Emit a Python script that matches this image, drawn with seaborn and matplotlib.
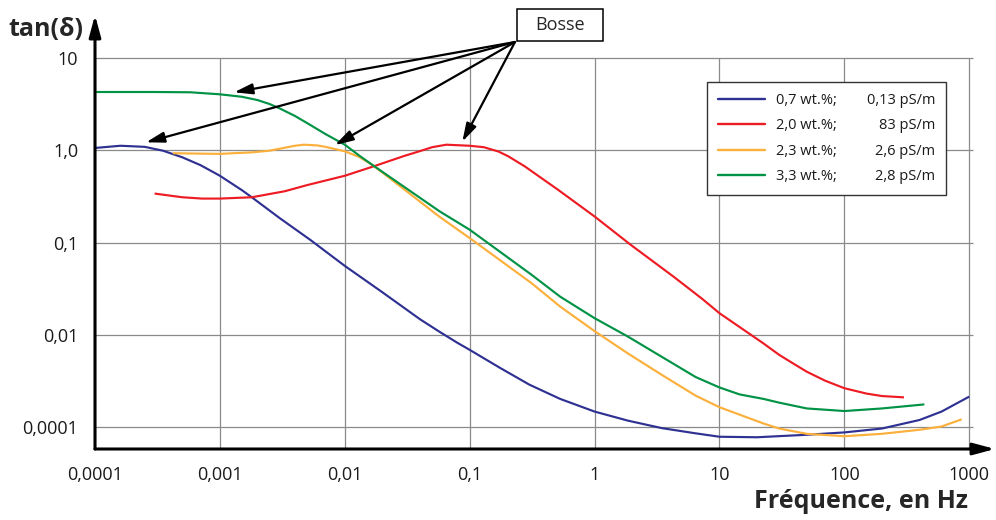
import numpy as np
import pandas as pd
import seaborn as sns
from matplotlib import pyplot as plt
from matplotlib.lines import Line2D
from matplotlib.patches import Rectangle

# concentration / conductivity of each sample
series_names = ["0,7 wt.%;", "2,0 wt.%;", "2,3 wt.%;", "3,3 wt.%;"]
conductivity = ["0,13 pS/m", "83 pS/m", "2,6 pS/m", "2,8 pS/m"]
colors = ["#2e3192", "#ed1c24", "#fbb03b", "#009245"]

# values (frequency in Hz, tan delta)
freq_07 = [1e-4, 1.6e-4, 2.5e-4, 3.5e-4, 5e-4, 7e-4, 1e-3, 1.5e-3, 1.8e-3, 3e-3,
           5.3e-3, 1e-2, 0.02, 0.04, 0.0575, 0.08, 0.1, 0.175, 0.3, 0.53, 1, 1.85, 3.45,
           6.45, 10, 20, 50, 100, 200, 400, 600, 1000]
tan_07 = [1.06, 1.12, 1.09, 0.99, 0.84, 0.69, 0.53, 0.37, 0.31, 0.185,
          0.107, 0.056, 0.029, 0.0148, 0.0108, 0.0082, 0.0069, 0.0044, 0.0029, 0.00203,
          0.00148, 0.00118, 0.00098, 0.00086, 0.00079, 0.00078, 0.00083, 0.00088,
          0.00097, 0.0012, 0.00148, 0.00215]

freq_20 = [3e-4, 5e-4, 7.2e-4, 1e-3, 1.8e-3, 3.3e-3, 5e-3, 1e-2, 0.017, 0.03, 0.04, 0.05,
           0.065, 0.1, 0.13, 0.17, 0.204, 0.276, 0.508, 1, 1.94, 4.27, 7.3, 10, 22.5, 30,
           40, 50, 70, 100, 150, 200, 300]
tan_20 = [0.34, 0.31, 0.30, 0.30, 0.31, 0.36, 0.42, 0.53, 0.67, 0.87, 0.98, 1.08,
          1.15, 1.12, 1.08, 0.97, 0.86, 0.67, 0.375, 0.192, 0.095, 0.043, 0.0245, 0.0172,
          0.0081, 0.0061, 0.0048, 0.0040, 0.0032, 0.00265, 0.00232, 0.00218, 0.00211]

freq_23 = [4.2e-4, 7.2e-4, 1e-3, 1.8e-3, 2.5e-3, 3e-3, 4e-3, 4.7e-3, 6e-3, 7e-3, 1e-2,
           0.013, 0.017, 0.03, 0.0575, 0.1, 0.312, 0.53, 1, 1.85, 3.45, 6.45, 10, 22.5,
           30, 50, 100, 200, 400, 600, 870]
tan_23 = [0.93, 0.92, 0.915, 0.95, 0.99, 1.04, 1.12, 1.15, 1.13, 1.09, 0.975,
          0.85, 0.68, 0.376, 0.19, 0.112, 0.0365, 0.0203, 0.0110, 0.0063, 0.0037, 0.0022,
          0.00165, 0.0011, 0.00097, 0.00085, 0.0008, 0.00085, 0.00094, 0.00102, 0.00122]

freq_33 = [1e-4, 3e-4, 5.8e-4, 1e-3, 1.5e-3, 2e-3, 2.5e-3, 3e-3, 4e-3, 5e-3, 7e-3, 1e-2,
           0.013, 0.017, 0.03, 0.0575, 0.1, 0.312, 0.53, 1, 1.85, 3.45, 6.45, 10, 14.5,
           22.5, 30, 50, 100, 200, 437]
tan_33 = [4.28, 4.28, 4.25, 4.04, 3.8, 3.5, 3.17, 2.85, 2.35, 1.97, 1.5, 1.15,
          0.88, 0.68, 0.40, 0.218, 0.138, 0.045, 0.026, 0.0152, 0.0096, 0.0058, 0.0035,
          0.0027, 0.00227, 0.00203, 0.00185, 0.0016, 0.0015, 0.0016, 0.00177]

x_ticks = [1e-4, 1e-3, 1e-2, 1e-1, 1, 10, 100, 1000]
x_labels = ["0,0001", "0,001", "0,01", "0,1", "1", "10", "100", "1000"]
y_ticks = [10, 1, 0.1, 0.01, 0.001]
y_labels = ["10", "1,0", "0,1", "0,01", "0,0001"]

# the "Bosse" arrows point at these humps
bump_freq = [0.0013, 0.000256, 0.00834, 0.0873]
bump_tan = [4.25, 1.22, 1.14, 1.24]


def build_frame():
    frames = []
    for name, f, t in zip(series_names,
                          [freq_07, freq_20, freq_23, freq_33],
                          [tan_07, tan_20, tan_23, tan_33]):
        frames.append(pd.DataFrame({"freq": f, "tan": t, "serie": name}))
    return pd.concat(frames, ignore_index=True)


if __name__ == '__main__':
    sns.set_style("white")
    plt.rcParams['font.family'] = ['Open Sans', 'DejaVu Sans']

    data = build_frame()
    palette = dict(zip(series_names, colors))

    fig = plt.figure(figsize=(9.96, 5.2), dpi=100)
    ax = fig.add_axes([95 / 996, 71 / 520, 900 / 996, 434 / 520])

    ax.set_xscale('log')
    ax.set_yscale('log')
    ax.set_xlim(1e-4, 1607)
    ax.set_ylim(5.82e-4, 29.2)

    # grid only inside the decade box
    ax.vlines(x_ticks, 5.82e-4, 10, color='#8a8a8a', lw=0.9, zorder=0)
    ax.hlines(y_ticks, 1e-4, 1076, color='#8a8a8a', lw=0.9, zorder=0)

    sns.lineplot(data=data, x='freq', y='tan', hue='serie', palette=palette,
                 estimator=None, sort=False, legend=False, lw=1.55, ax=ax, zorder=3,
                 solid_joinstyle='round', solid_capstyle='butt')

    ax.minorticks_off()
    ax.set_xticks(x_ticks)
    ax.set_xticklabels(x_labels)
    ax.set_yticks(y_ticks)
    ax.set_yticklabels(y_labels)
    ax.tick_params(length=0, labelsize=13, colors='#1a1a1a')
    ax.tick_params(axis='x', pad=12)
    ax.tick_params(axis='y', pad=12)
    ax.set_xlabel('')
    ax.set_ylabel('')
    for s in ax.spines.values():
        s.set_visible(False)

    # axes with arrow heads
    arrow_style = '-|>,head_length=1.3,head_width=0.35'
    ax.annotate('', xy=(0, 1), xytext=(0, 0), xycoords='axes fraction',
                arrowprops=dict(arrowstyle=arrow_style, lw=2.2, color='black',
                                shrinkA=0, shrinkB=0), annotation_clip=False)
    ax.annotate('', xy=(1, 0), xytext=(0, 0), xycoords='axes fraction',
                arrowprops=dict(arrowstyle=arrow_style, lw=2.2, color='black',
                                shrinkA=0, shrinkB=0), annotation_clip=False)

    fig.text(46 / 996, 1 - 29 / 520, 'tan(δ)', fontsize=18, fontweight='bold',
             ha='center', va='center')
    fig.text(968 / 996, 1 - 501 / 520, 'Fréquence, en Hz', fontsize=18, fontweight='bold',
             ha='right', va='center')

    # Bosse box and arrows
    fig.patches.append(Rectangle((517 / 996, 1 - 41 / 520), 86 / 996, 32 / 520,
                                 transform=fig.transFigure, fill=False,
                                 edgecolor='black', lw=1.1))
    fig.text(560 / 996, 1 - 25 / 520, 'Bosse', fontsize=13, ha='center', va='center')
    for bx, by in zip(bump_freq, bump_tan):
        ax.annotate('', xy=(bx, by), xytext=(515, 520 - 42), textcoords='figure pixels',
                    arrowprops=dict(arrowstyle='-|>,head_length=1.1,head_width=0.32',
                                    lw=1.6, color='black', shrinkA=0, shrinkB=0),
                    annotation_clip=False, zorder=5)

    # legend: wt.% left, conductivity right aligned
    handles = [Line2D([], [], color=c, lw=1.7) for c in colors]
    full_labels = [n + '\u2003\u2003' + c for n, c in zip(series_names, conductivity)]
    leg = ax.legend(handles, full_labels, loc='upper right',
                    bbox_to_anchor=(851 / 900, 367 / 434), borderaxespad=0,
                    fontsize=10.5, handlelength=3.2, handletextpad=0.8,
                    labelspacing=0.72, borderpad=0.75, fancybox=False,
                    framealpha=1, edgecolor='#333333')
    leg.get_frame().set_linewidth(1.0)
    leg.set_zorder(6)

    fig.canvas.draw()
    renderer = fig.canvas.get_renderer()
    texts = leg.get_texts()
    right = max(t.get_window_extent(renderer).x1 for t in texts)
    for t, name, cond in zip(texts, series_names, conductivity):
        bb = t.get_window_extent(renderer)
        t.set_visible(False)
        fig.text(bb.x0 / fig.bbox.width, bb.y0 / fig.bbox.height, name, fontsize=10.5,
                 ha='left', va='bottom', color='#1a1a1a', zorder=7)
        fig.text(right / fig.bbox.width, bb.y0 / fig.bbox.height, cond, fontsize=10.5,
                 ha='right', va='bottom', color='#1a1a1a', zorder=7)

    plt.savefig('out.png', dpi=100)
